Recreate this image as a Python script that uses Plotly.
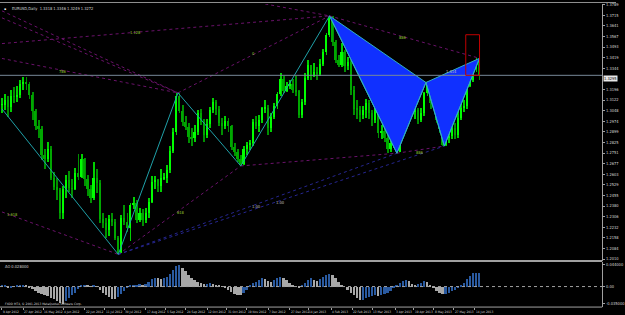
import plotly.graph_objects as go
import pandas as pd

# ---------------- data ----------------
first_day = "2012-04-09"
last_day = "2013-06-19"
step = 2  # one sample every two daily bars

close = [1.3090, 1.3120, 1.3075, 1.3150, 1.3145, 1.3160, 1.3235, 1.3250, 1.3235, 1.3160,
         1.3045, 1.2940, 1.2920, 1.2735, 1.2710, 1.2780, 1.2580, 1.2515, 1.2495, 1.2330,
         1.2500, 1.2565, 1.2505, 1.2500, 1.2610, 1.2585, 1.2710, 1.2570, 1.2500, 1.2440,
         1.2580, 1.2540, 1.2290, 1.2265, 1.2210, 1.2290, 1.2270, 1.2155, 1.2050, 1.2295,
         1.2270, 1.2225, 1.2390, 1.2405, 1.2285, 1.2335, 1.2280, 1.2335, 1.2410, 1.2550,
         1.2560, 1.2520, 1.2575, 1.2575, 1.2630, 1.2765, 1.2900, 1.3150, 1.3045, 1.2970,
         1.2935, 1.2865, 1.2855, 1.2900, 1.3035, 1.2970, 1.2880, 1.2955, 1.3055, 1.3110,
         1.3060, 1.2965, 1.2940, 1.2975, 1.2940, 1.2795, 1.2760, 1.2710, 1.2675, 1.2780,
         1.2810, 1.2820, 1.2970, 1.2940, 1.2980, 1.3065, 1.3070, 1.2925, 1.3005, 1.3080,
         1.3165, 1.3270, 1.3185, 1.3220, 1.3235, 1.3195, 1.3185, 1.3020, 1.3110, 1.3275,
         1.3365, 1.3290, 1.3315, 1.3305, 1.3375, 1.3455, 1.3575, 1.3695, 1.3525, 1.3405,
         1.3365, 1.3460, 1.3360, 1.3390, 1.3190, 1.3060, 1.3055, 1.3020, 1.3055, 1.3105,
         1.3030, 1.2985, 1.3075, 1.2890, 1.2905, 1.2855, 1.2780, 1.2820, 1.2845, 1.2760,
         1.3040, 1.3095, 1.3110, 1.3190, 1.3045, 1.3055, 1.2985, 1.3030, 1.3170, 1.3230,
         1.3105, 1.3145, 1.2985, 1.2920, 1.2810, 1.2860, 1.2870, 1.2930, 1.2875, 1.3000,
         1.3070, 1.3080, 1.3220, 1.3265, 1.3340, 1.3405, 1.3295]

high = [1.3140, 1.3165, 1.3150, 1.3190, 1.3210, 1.3220, 1.3265, 1.3285, 1.3283, 1.3250,
        1.3180, 1.3060, 1.2980, 1.2940, 1.2780, 1.2830, 1.2800, 1.2620, 1.2580, 1.2510,
        1.2520, 1.2600, 1.2625, 1.2570, 1.2650, 1.2745, 1.2745, 1.2720, 1.2600, 1.2530,
        1.2690, 1.2640, 1.2560, 1.2330, 1.2300, 1.2320, 1.2330, 1.2290, 1.2170, 1.2320,
        1.2390, 1.2330, 1.2405, 1.2445, 1.2420, 1.2370, 1.2360, 1.2365, 1.2440, 1.2590,
        1.2590, 1.2570, 1.2640, 1.2610, 1.2670, 1.2800, 1.2930, 1.3170, 1.3172, 1.3090,
        1.3010, 1.2960, 1.2930, 1.2950, 1.3050, 1.3060, 1.2990, 1.2990, 1.3075, 1.3140,
        1.3120, 1.3080, 1.3000, 1.3010, 1.3000, 1.2950, 1.2820, 1.2780, 1.2740, 1.2800,
        1.2830, 1.2840, 1.2990, 1.3010, 1.3015, 1.3075, 1.3125, 1.3090, 1.3030, 1.3100,
        1.3180, 1.3308, 1.3290, 1.3250, 1.3260, 1.3270, 1.3290, 1.3190, 1.3130, 1.3310,
        1.3400, 1.3370, 1.3380, 1.3350, 1.3410, 1.3480, 1.3590, 1.3711, 1.3710, 1.3540,
        1.3440, 1.3520, 1.3470, 1.3420, 1.3400, 1.3220, 1.3120, 1.3080, 1.3080, 1.3130,
        1.3120, 1.3050, 1.3110, 1.3080, 1.2950, 1.3000, 1.2880, 1.2850, 1.2880, 1.2880,
        1.3060, 1.3140, 1.3140, 1.3210, 1.3200, 1.3100, 1.3070, 1.3070, 1.3180, 1.3245,
        1.3230, 1.3180, 1.3150, 1.3000, 1.2930, 1.2900, 1.2920, 1.2970, 1.2960, 1.3040,
        1.3110, 1.3120, 1.3250, 1.3300, 1.3380, 1.3414, 1.3414]

low = [1.3030, 1.3055, 1.3003, 1.3040, 1.3100, 1.3110, 1.3140, 1.3190, 1.3190, 1.3130,
       1.2980, 1.2910, 1.2860, 1.2700, 1.2640, 1.2690, 1.2560, 1.2495, 1.2420, 1.2290,
       1.2288, 1.2440, 1.2480, 1.2440, 1.2490, 1.2560, 1.2580, 1.2520, 1.2450, 1.2405,
       1.2420, 1.2470, 1.2260, 1.2230, 1.2160, 1.2170, 1.2240, 1.2140, 1.2042, 1.2050,
       1.2250, 1.2200, 1.2135, 1.2360, 1.2260, 1.2270, 1.2240, 1.2260, 1.2300, 1.2400,
       1.2500, 1.2480, 1.2480, 1.2560, 1.2540, 1.2610, 1.2750, 1.2880, 1.3030, 1.2940,
       1.2910, 1.2820, 1.2800, 1.2830, 1.2880, 1.2950, 1.2830, 1.2860, 1.2930, 1.3030,
       1.3020, 1.2940, 1.2880, 1.2920, 1.2900, 1.2770, 1.2730, 1.2690, 1.2661, 1.2665,
       1.2740, 1.2770, 1.2800, 1.2920, 1.2900, 1.2960, 1.3030, 1.2880, 1.2900, 1.2990,
       1.3060, 1.3150, 1.3170, 1.3180, 1.3200, 1.3170, 1.3150, 1.2998, 1.3000, 1.3090,
       1.3260, 1.3260, 1.3280, 1.3260, 1.3290, 1.3360, 1.3440, 1.3560, 1.3500, 1.3380,
       1.3350, 1.3350, 1.3320, 1.3330, 1.3160, 1.3020, 1.2990, 1.2967, 1.2990, 1.3000,
       1.2990, 1.2940, 1.2960, 1.2860, 1.2850, 1.2830, 1.2750, 1.2760, 1.2790, 1.2750,
       1.2760, 1.3010, 1.3070, 1.3030, 1.3020, 1.2990, 1.2955, 1.2970, 1.3010, 1.3150,
       1.3060, 1.3080, 1.2960, 1.2890, 1.2800, 1.2800, 1.2820, 1.2850, 1.2850, 1.2860,
       1.2980, 1.3040, 1.3060, 1.3210, 1.3250, 1.3320, 1.3260]

ao = [0.002, 0.003, -0.002, -0.001, 0.001, 0.002, 0.002, 0.003, 0.002, -0.001,
      -0.005, -0.008, -0.012, -0.016, -0.018, -0.020, -0.023, -0.026, -0.030, -0.034,
      -0.035, -0.030, -0.024, -0.018, -0.012, -0.004, 0.002, 0.004, 0.003, 0.001,
      0.002, 0.001, -0.006, -0.012, -0.018, -0.022, -0.025, -0.026, -0.022, -0.016,
      -0.008, -0.002, 0.002, 0.004, 0.004, 0.005, 0.004, 0.006, 0.010, 0.016,
      0.018, 0.017, 0.016, 0.017, 0.020, 0.026, 0.034, 0.042, 0.044, 0.038,
      0.032, 0.024, 0.018, 0.014, 0.010, 0.008, 0.006, 0.006, 0.007, 0.006,
      0.004, 0.002, 0.001, -0.002, -0.006, -0.010, -0.014, -0.017, -0.018, -0.012,
      -0.006, 0.002, 0.008, 0.010, 0.014, 0.017, 0.016, 0.012, 0.010, 0.014,
      0.018, 0.020, 0.018, 0.014, 0.008, 0.004, 0.000, -0.001, 0.002, 0.008,
      0.014, 0.018, 0.014, 0.012, 0.015, 0.020, 0.024, 0.026, 0.024, 0.018,
      0.010, 0.004, 0.000, -0.006, -0.012, -0.018, -0.024, -0.028, -0.027, -0.024,
      -0.022, -0.020, -0.018, -0.020, -0.018, -0.014, -0.012, -0.008, -0.002, 0.004,
      0.008, 0.012, 0.013, 0.011, 0.006, 0.004, 0.005, 0.008, 0.011, 0.010,
      0.004, -0.002, -0.008, -0.012, -0.016, -0.015, -0.012, -0.009, -0.006, -0.002,
      0.002, 0.008, 0.016, 0.022, 0.027, 0.028, 0.028]

date_labels = ["9 Apr 2012", "27 Apr 2012", "16 May 2012", "4 Jun 2012", "22 Jun 2012",
               "11 Jul 2012", "30 Jul 2012", "17 Aug 2012", "5 Sep 2012", "24 Sep 2012",
               "12 Oct 2012", "31 Oct 2012", "19 Nov 2012", "7 Dec 2012", "27 Dec 2012",
               "14 Jan 2013", "4 Feb 2013", "22 Feb 2013", "13 Mar 2013", "3 Apr 2013",
               "19 Apr 2013", "8 May 2013", "27 May 2013", "14 Jun 2013"]

zz_dates = ["2012-04-09", "2012-07-24", "2012-09-17", "2012-11-13", "2013-02-01"]
zz_prices = [1.3060, 1.2042, 1.3172, 1.2661, 1.3711]

pat_dates = ["2013-02-01", "2013-04-04", "2013-05-01", "2013-05-17", "2013-06-19"]
pat_prices = [1.3711, 1.2750, 1.3245, 1.2800, 1.3414]

pl_start_dates = ["2012-04-09", "2012-04-09", "2012-04-09", "2012-04-09", "2012-09-17",
                  "2013-02-01", "2012-04-09", "2012-07-24", "2012-11-13", "2013-04-04",
                  "2012-12-05"]
pl_start_prices = [1.3746, 1.3697, 1.3413, 1.3517, 1.3172, 1.3711, 1.2339, 1.2042, 1.2661,
                   1.2750, 1.3794]
pl_end_dates = ["2012-09-17", "2012-09-17", "2012-09-17", "2013-02-01", "2013-02-01",
                "2013-06-19", "2012-07-24", "2012-11-13", "2013-04-04", "2013-05-17",
                "2013-02-01"]
pl_end_prices = [1.3172, 1.3172, 1.3172, 1.3711, 1.3711, 1.3414, 1.2042, 1.2661, 1.2750,
                 1.2800, 1.3711]

bl_start_dates = ["2012-07-24", "2012-07-24"]
bl_start_prices = [1.2042, 1.2042]
bl_end_dates = ["2013-04-04", "2013-05-17"]
bl_end_prices = [1.2750, 1.2800]

lab_dates = ["2012-04-18", "2012-06-04", "2012-08-08", "2012-11-23", "2012-09-19",
             "2012-11-27", "2012-12-19", "2013-04-10", "2013-05-24", "2013-04-25"]
lab_prices = [1.2318, 1.3323, 1.3593, 1.3448, 1.2332, 1.2380, 1.2408, 1.3558, 1.3323, 1.2755]
lab_texts = ["1.618", "786", "1.128", "0", "618", "1.00", "1.00", "886", "1.414", "886"]
lab_colors = ["#9acd32"] * 5 + ["#c0c0c0", "#c0c0c0", "#9acd32", "#c0c0c0", "#9acd32"]

box_dates = ["2013-06-06", "2013-06-19"]
box_prices = [1.3295, 1.3579]

header = "EURUSD,Daily  1.3318 1.3346 1.3249 1.3272"
footer = "FXDD MT4, \u00a9 2001-2013 MetaQuotes Software Corp."

# ---------------- build ----------------
W, H = 625, 315
dates = pd.bdate_range(first_day, last_day)


def idx(d):
    return dates.get_loc(pd.Timestamp(d))


xs = list(range(0, len(dates), step))
opens = [close[0]] + close[:-1]
up = [c >= o for o, c in zip(opens, close)]
body_lo = [min(o, c) for o, c in zip(opens, close)]
body_h = [max(abs(c - o), 0.0004) for o, c in zip(opens, close)]
bid = close[-1]

px_per_bar = 1.553
x_right = 611 / W
xr = [-2 / px_per_bar, (611 - 2) / px_per_bar]
price_per_px = 0.000693
p_top = 1.3711 + 12 * price_per_px
p_bot = 1.3711 - 247 * price_per_px
tick0, dtick = 1.37893, 0.007415
price_ticks = [tick0 - n * dtick for n in range(25)]
price_ticks = [t for t in price_ticks if abs(t - bid) > 0.0035 and t > p_bot]

fig = go.Figure()

# harmonic pattern triangles (background)
for tri in ([0, 1, 2], [2, 3, 4]):
    fig.add_trace(go.Scatter(
        x=[idx(pat_dates[i]) for i in tri] + [idx(pat_dates[tri[0]])],
        y=[pat_prices[i] for i in tri] + [pat_prices[tri[0]]],
        mode="lines", fill="toself", fillcolor="#1030ff",
        line=dict(color="#30b0c0", width=1), hoverinfo="skip", showlegend=False,
        xaxis="x", yaxis="y"))

# dotted lines
for sd, sp, ed, ep in zip(pl_start_dates, pl_start_prices, pl_end_dates, pl_end_prices):
    fig.add_trace(go.Scatter(x=[idx(sd), idx(ed)], y=[sp, ep], mode="lines",
                             line=dict(color="#6a126a", width=1, dash="dot"),
                             hoverinfo="skip", showlegend=False, xaxis="x", yaxis="y"))
for sd, sp, ed, ep in zip(bl_start_dates, bl_start_prices, bl_end_dates, bl_end_prices):
    fig.add_trace(go.Scatter(x=[idx(sd), idx(ed)], y=[sp, ep], mode="lines",
                             line=dict(color="#26268f", width=1, dash="dot"),
                             hoverinfo="skip", showlegend=False, xaxis="x", yaxis="y"))

# price bars: wicks then bodies
wick_col = ["#00d000" if u else "#009000" for u in up]
body_col = ["#00ff00" if u else "#00a800" for u in up]
fig.add_trace(go.Bar(x=xs, y=[h - l for h, l in zip(high, low)], base=low, width=0.6,
                     marker=dict(color=wick_col, line=dict(width=0)), hoverinfo="skip",
                     showlegend=False, xaxis="x", yaxis="y"))
fig.add_trace(go.Bar(x=xs, y=body_h, base=body_lo, width=1.1,
                     marker=dict(color=body_col, line=dict(width=0)), hoverinfo="skip",
                     showlegend=False, xaxis="x", yaxis="y"))

# zigzag
fig.add_trace(go.Scatter(x=[idx(d) for d in zz_dates], y=zz_prices, mode="lines",
                         line=dict(color="#1fa0a8", width=1), hoverinfo="skip",
                         showlegend=False, xaxis="x", yaxis="y"))
fig.add_trace(go.Scatter(x=[idx(d) for d in pat_dates], y=pat_prices, mode="lines",
                         line=dict(color="#30b0c0", width=1), hoverinfo="skip",
                         showlegend=False, xaxis="x", yaxis="y"))

# AO histogram
ao_colors = ["#2a5aa0" if i == 0 or ao[i] >= ao[i - 1] else "#a8a8a8" for i in range(len(ao))]
fig.add_trace(go.Bar(x=xs, y=ao, marker=dict(color=ao_colors, line=dict(width=0)),
                     width=1.2, hoverinfo="skip", showlegend=False, xaxis="x2", yaxis="y2"))

FONT = "DejaVu Sans Condensed"
font_tick = dict(family=FONT, size=4, color="#d8d8d8")
font_date = dict(family=FONT, size=3.2, color="#d8d8d8")

shapes = [
    dict(type="line", xref="paper", yref="paper", x0=0, x1=1, y0=1 - 0.5 / H, y1=1 - 0.5 / H,
         line=dict(color="#909090", width=1)),
    dict(type="line", xref="paper", yref="paper", x0=0, x1=x_right, y0=1 - 261.5 / H,
         y1=1 - 261.5 / H, line=dict(color="#a0a0a0", width=2)),
    dict(type="line", xref="paper", yref="paper", x0=0, x1=x_right, y0=1 - 308 / H,
         y1=1 - 308 / H, line=dict(color="#a0a0a0", width=1)),
    dict(type="line", xref="paper", yref="y", x0=0, x1=x_right, y0=bid, y1=bid,
         line=dict(color="#778899", width=1)),
    dict(type="line", xref="paper", yref="y2", x0=0, x1=x_right, y0=0, y1=0,
         line=dict(color="#a0a0a0", width=1, dash="dot")),
    dict(type="rect", xref="x", yref="y", x0=idx(box_dates[0]), x1=idx(box_dates[1]),
         y0=box_prices[0], y1=box_prices[1], line=dict(color="#c00000", width=1)),
]

annotations = []
for d in date_labels:
    ts = pd.to_datetime(d, format="%d %b %Y")
    annotations.append(dict(x=dates.get_loc(ts), xref="x2", y=1 - 309 / H, yref="paper",
                            text=d, showarrow=False, xanchor="left", yanchor="top",
                            xshift=-1, font=font_date))
for d, p, t, c in zip(lab_dates, lab_prices, lab_texts, lab_colors):
    annotations.append(dict(x=idx(d), y=p, xref="x", yref="y", text=t, showarrow=False,
                            font=dict(family=FONT, size=4, color=c)))
annotations.append(dict(x=10 / W, y=1 - 2 / H, xref="paper", yref="paper", text=header,
                        showarrow=False, xanchor="left", yanchor="top", font=font_tick))
annotations.append(dict(x=2 / W, y=1 - 1.5 / H, xref="paper", yref="paper", text="\u25aa",
                        showarrow=False, xanchor="left", yanchor="top",
                        font=dict(size=6, color="#ffffff")))
annotations.append(dict(x=3 / W, y=1 - 263 / H, xref="paper", yref="paper",
                        text=f"AO {ao[-1]:.6f}", showarrow=False, xanchor="left",
                        yanchor="top", font=font_tick))
annotations.append(dict(x=3 / W, y=1 - 301 / H, xref="paper", yref="paper", text=footer,
                        showarrow=False, xanchor="left", yanchor="top", font=font_date))
annotations.append(dict(x=x_right + 1 / W, y=bid, xref="paper", yref="y", text=f"{bid:.4f}",
                        showarrow=False, xanchor="left", yanchor="top", bgcolor="#e8e8e8",
                        borderpad=0, font=dict(family=FONT, size=4, color="#000000")))

ao_max, ao_min = max(ao), min(ao)

fig.update_layout(
    width=W, height=H, margin=dict(l=0, r=0, t=0, b=0),
    paper_bgcolor="#000000", plot_bgcolor="#000000",
    bargap=0, barmode="overlay", shapes=shapes, annotations=annotations,
    xaxis=dict(domain=[0, x_right], range=xr, visible=False, anchor="y"),
    xaxis2=dict(domain=[0, x_right], range=xr, matches="x", anchor="y2", showgrid=False,
                zeroline=False, showline=False, showticklabels=False, ticks="outside",
                ticklen=2, tickcolor="#a0a0a0",
                tickvals=[dates.get_loc(pd.to_datetime(d, format="%d %b %Y")) for d in date_labels]),
    yaxis=dict(domain=[1 - 261 / H, 1 - 2 / H], range=[p_bot, p_top], side="right",
               anchor="x", showgrid=False, zeroline=False, showline=True, linecolor="#a0a0a0",
               ticks="outside", ticklen=2, tickcolor="#a0a0a0", tickvals=price_ticks,
               ticktext=[f"{t:.4f}" for t in price_ticks], tickfont=font_tick),
    yaxis2=dict(domain=[1 - 308 / H, 1 - 262.5 / H], range=[-0.0414, 0.0496], side="right",
                anchor="x2", showgrid=False, zeroline=False, showline=True,
                linecolor="#a0a0a0", ticks="outside", ticklen=2, tickcolor="#a0a0a0",
                tickvals=[ao_max, 0, ao_min],
                ticktext=[f"{ao_max:.6f}", "0.00", f"{ao_min:.6f}"], tickfont=font_tick),
)

fig.write_html("out.html")
